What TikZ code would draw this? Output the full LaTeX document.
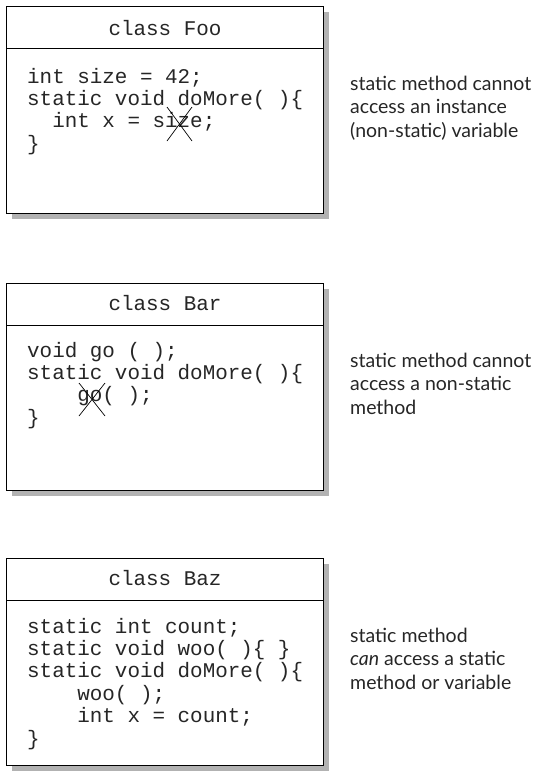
\documentclass[tikz,border=0pt]{standalone}
\usepackage{fontspec}
\setmainfont{Lato}
\setmonofont{Liberation Mono}
\usetikzlibrary{shadows,positioning}

\tikzset{
  classbox/.style={draw, thick, fill=white, minimum width=317pt, minimum height=207pt, inner sep=0pt,
    drop shadow={shadow xshift=6pt, shadow yshift=-6pt, fill=black!30, opacity=1}},
  classhead/.style={draw, thick, minimum width=317pt, minimum height=42pt, inner sep=0pt},
  code/.style={inner sep=0pt, align=left, font=\fontsize{20.9}{22.4}\selectfont\ttfamily, text=black!85},
  note/.style={inner sep=0pt, align=left, font=\fontsize{19.5}{23.5}\selectfont, text=black!85},
  cross/.style={line width=0.7pt}
}
\newcommand{\ind}[1]{\phantom{#1}}

\begin{document}
\begin{tikzpicture}[x=1pt, y=-1pt]
        \useasboundingbox (0,0) rectangle (535,772);
        % class Foo  (multi-line nodes sit on the baseline of their last line)
        \node[classbox, anchor=north west] (foo) at (6,6) {};
        \node[classhead, anchor=north] (foohead) at (foo.north) {};
        \node[code, anchor=base] (footitle) at (165,35) {class Foo};
        \node[code, anchor=base west] (foocode) at (27,150.2) {int size = 42;\\static void doMore( )\{\\\ind{xx}int x = size;\\\}};
        \draw[cross] (167,107) -- (192,141);
        \draw[cross] (192,107) -- (167,141);
        \node[note, anchor=base west] (foonote) at (350,137) {static method cannot\\access an instance\\(non-static) variable};

        % class Bar
        \node[classbox, anchor=north west] (bar) at (6,283) {};
        \node[classhead, anchor=north] (barhead) at (bar.north) {};
        \node[code, anchor=base] (bartitle) at (165,310) {class Bar};
        \node[code, anchor=base west] (barcode) at (27,424.2) {void go ( );\\static void doMore( )\{\\\ind{xxxx}go( );\\\}};
        \draw[cross] (79,383) -- (105,416);
        \draw[cross] (105,383) -- (79,416);
        \node[note, anchor=base west] (barnote) at (350,414) {static method cannot\\access a non-static\\method};

        % class Baz
        \node[classbox, anchor=north west] (baz) at (6,558) {};
        \node[classhead, anchor=north] (bazhead) at (baz.north) {};
        \node[code, anchor=base] (baztitle) at (165,585) {class Baz};
        \node[code, anchor=base west] (bazcode) at (27,745) {static int count;\\static void woo( )\{ \}\\static void doMore( )\{\\\ind{xxxx}woo( );\\\ind{xxxx}int x = count;\\\}};
        \node[note, anchor=base west] (baznote) at (350,689) {static method\\\textit{can} access a static\\method or variable};
\end{tikzpicture}
\end{document}
